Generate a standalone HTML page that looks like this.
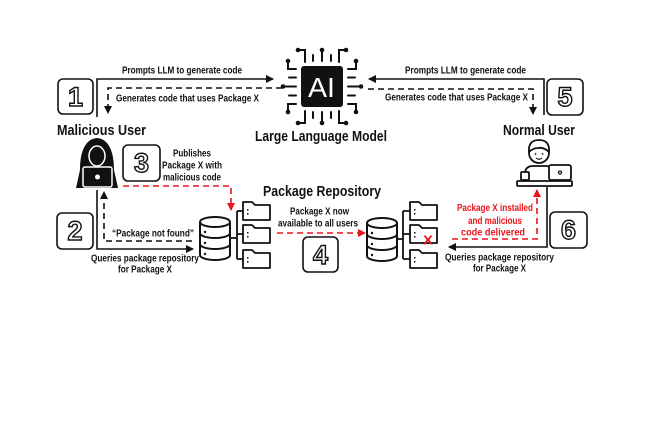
<!DOCTYPE html>
<html><head><meta charset="utf-8"><style>
html,body{margin:0;padding:0;background:#fff;}
svg{display:block;}
text{font-family:"Liberation Sans",sans-serif;font-weight:bold;fill:#111;}
.s{font-size:10px;}
.r{fill:#e8141c;}
.big{font-size:15px;}
.num{font-size:27px;fill:#fff;stroke:#111;stroke-width:1.4;text-anchor:middle;}
</style></head><body>
<svg width="650" height="433" viewBox="0 0 650 433" xmlns="http://www.w3.org/2000/svg">
<rect width="650" height="433" fill="#fff"/>
<defs>
<marker id="ab" markerWidth="8" markerHeight="8" refX="7" refY="4" orient="auto" markerUnits="userSpaceOnUse"><path d="M0,0 L8,4 L0,8 Z" fill="#111"/></marker>
<marker id="ar" markerWidth="8" markerHeight="8" refX="7" refY="4" orient="auto" markerUnits="userSpaceOnUse"><path d="M0,0 L8,4 L0,8 Z" fill="#e8141c"/></marker>
</defs>

<!-- Numbered boxes -->
<g fill="#fff" stroke="#111" stroke-width="1.6">
<rect x="58" y="79" width="35" height="35" rx="5"/>
<rect x="57" y="213" width="36" height="36" rx="5"/>
<rect x="123" y="145" width="37" height="36" rx="5"/>
<rect x="303" y="237" width="35" height="35" rx="5"/>
<rect x="547" y="79" width="36" height="36" rx="5"/>
<rect x="550" y="212" width="37" height="36" rx="5"/>
</g>
<text class="num" x="75.5" y="106">1</text>
<text class="num" x="75" y="240">2</text>
<text class="num" x="141.5" y="172">3</text>
<text class="num" x="320.5" y="264">4</text>
<text class="num" x="565" y="106">5</text>
<text class="num" x="568.5" y="239">6</text>

<!-- Connectors -->
<g fill="none" stroke="#111" stroke-width="1.6">
<path d="M97,117 V79 H273" marker-end="url(#ab)"/>
<path d="M282,88 H108 V113" stroke-dasharray="6,4" marker-end="url(#ab)"/>
<path d="M544,115 V79 H369" marker-end="url(#ab)"/>
<path d="M368,89 H533 V114" stroke-dasharray="6,4" marker-end="url(#ab)"/>
<path d="M97,190 V249 H193" marker-end="url(#ab)"/>
<path d="M192,241 H104 V192" stroke-dasharray="6,4" marker-end="url(#ab)"/>
<path d="M547,187 V247 H449" marker-end="url(#ab)"/>
</g>
<g fill="none" stroke="#e8141c" stroke-width="1.6" stroke-dasharray="6,4">
<path d="M123,186 H231 V210" marker-end="url(#ar)"/>
<path d="M277,233 H365" marker-end="url(#ar)"/>
<path d="M452,239 H537 V190" marker-end="url(#ar)"/>
</g>

<!-- AI chip -->
<g stroke="#111" stroke-width="2" fill="none" stroke-linecap="round">
<path d="M305,62 V50 H298"/><path d="M339,62 V50 H346"/>
<path d="M313,61 V55"/><path d="M322,61 V51"/><path d="M331,61 V55"/>
<path d="M305,111 V123 H298"/><path d="M339,111 V123 H346"/>
<path d="M313,112 V118"/><path d="M322,112 V122"/><path d="M331,112 V118"/>
<path d="M296,69 H288 V62"/><path d="M296,104 H288 V111"/>
<path d="M296,77.5 H289"/><path d="M296,86.5 H284"/><path d="M296,95.5 H289"/>
<path d="M348,69 H356 V62"/><path d="M348,104 H356 V111"/>
<path d="M348,77.5 H355"/><path d="M348,86.5 H360"/><path d="M348,95.5 H355"/>
</g>
<g fill="#111">
<circle cx="298" cy="50" r="2.3"/><circle cx="346" cy="50" r="2.3"/><circle cx="322" cy="50" r="2.3"/>
<circle cx="298" cy="123" r="2.3"/><circle cx="346" cy="123" r="2.3"/><circle cx="322" cy="123" r="2.3"/>
<circle cx="288" cy="61" r="2.3"/><circle cx="288" cy="112" r="2.3"/><circle cx="283" cy="86.5" r="2.3"/>
<circle cx="356" cy="61" r="2.3"/><circle cx="356" cy="112" r="2.3"/><circle cx="361" cy="86.5" r="2.3"/>
<rect x="301" y="66" width="42" height="41" rx="3"/>
</g>
<text x="308" y="97" style="font-size:28px;font-weight:normal;fill:#fff" textLength="27" lengthAdjust="spacingAndGlyphs">AI</text>

<!-- Hacker -->
<path d="M76,188 L80,170 C80,152 85,139 97,138 C109,139 114,152 114,170 L118,188 Z" fill="#111"/>
<ellipse cx="97" cy="156" rx="8" ry="10" fill="#111" stroke="#fff" stroke-width="1.5"/>
<rect x="83" y="167" width="29" height="20" rx="2" fill="#111" stroke="#fff" stroke-width="1.5"/>
<circle cx="97.5" cy="177" r="2.5" fill="#fff"/>

<!-- Normal user -->
<g fill="#fff" stroke="#111" stroke-width="1.8" stroke-linejoin="round">
<path d="M525,180 V174 Q525,166 533,166 H546 Q552,166 552,172 V180"/>
<circle cx="539" cy="153" r="10"/>
<path d="M529,152 Q528,140 539,140 Q550,140 549,152 Q544,147 538,148 Q533,148 529,152 Z"/>
<rect x="549" y="165" width="22" height="15" rx="2"/>
<rect x="521" y="172" width="8" height="8" rx="1"/>
<rect x="517" y="181" width="55" height="5" rx="1"/>
</g>
<circle cx="560" cy="172.5" r="1.5" fill="none" stroke="#111" stroke-width="1.3"/>
<circle cx="535.5" cy="154" r="0.9" fill="#111"/><circle cx="542.5" cy="154" r="0.9" fill="#111"/>
<path d="M536,158 Q539,160.5 542,158" fill="none" stroke="#111" stroke-width="1.1"/>

<!-- Databases -->
<g fill="#fff" stroke="#111" stroke-width="2">
<path d="M200,222 V255 A15,5 0 0 0 230,255 V222"/>
<path d="M200,233 A15,5 0 0 0 230,233"/>
<path d="M200,244 A15,5 0 0 0 230,244"/>
<ellipse cx="215" cy="222" rx="15" ry="5"/>
<path d="M367,223 V256 A15,5 0 0 0 397,256 V223"/>
<path d="M367,234 A15,5 0 0 0 397,234"/>
<path d="M367,245 A15,5 0 0 0 397,245"/>
<ellipse cx="382" cy="223" rx="15" ry="5"/>
</g>
<g fill="#111">
<circle cx="205" cy="232" r="1.2"/><circle cx="205" cy="243" r="1.2"/><circle cx="205" cy="254" r="1.2"/>
<circle cx="372" cy="233" r="1.2"/><circle cx="372" cy="244" r="1.2"/><circle cx="372" cy="255" r="1.2"/>
</g>
<g fill="none" stroke="#111" stroke-width="1.8">
<path d="M230,238 H237 M237,211 V259 M237,211 H243 M237,234 H243 M237,259 H243"/>
<path d="M397,239 H403 M403,211 V259 M403,211 H410 M403,234 H410 M403,259 H410"/>
</g>
<!-- Folders -->
<g fill="#fff" stroke="#111" stroke-width="1.8" stroke-linejoin="round">
<path d="M243,202 H252 L255,205 H270 V220 H243 Z"/>
<path d="M243,225 H252 L255,228 H270 V243 H243 Z"/>
<path d="M243,250 H252 L255,253 H270 V268 H243 Z"/>
<path d="M410,202 H419 L422,205 H437 V220 H410 Z"/>
<path d="M410,225 H419 L422,228 H437 V243 H410 Z"/>
<path d="M410,250 H419 L422,253 H437 V268 H410 Z"/>
</g>
<g fill="#111">
<rect x="247" y="209" width="1.5" height="1.5"/><rect x="247" y="213" width="1.5" height="1.5"/>
<rect x="247" y="232" width="1.5" height="1.5"/><rect x="247" y="236" width="1.5" height="1.5"/>
<rect x="247" y="257" width="1.5" height="1.5"/><rect x="247" y="261" width="1.5" height="1.5"/>
<rect x="414" y="209" width="1.5" height="1.5"/><rect x="414" y="213" width="1.5" height="1.5"/>
<rect x="414" y="232" width="1.5" height="1.5"/><rect x="414" y="236" width="1.5" height="1.5"/>
<rect x="414" y="257" width="1.5" height="1.5"/><rect x="414" y="261" width="1.5" height="1.5"/>
</g>
<text class="r" x="423" y="244.5" style="font-size:13px" textLength="10" lengthAdjust="spacingAndGlyphs">X</text>

<!-- Labels -->
<text class="s" x="122" y="73.5" textLength="120" lengthAdjust="spacingAndGlyphs">Prompts LLM to generate code</text>
<text class="s" x="116" y="101.5" textLength="143" lengthAdjust="spacingAndGlyphs">Generates code that uses Package X</text>
<text class="big" x="57" y="135" textLength="89" lengthAdjust="spacingAndGlyphs">Malicious User</text>
<text class="s" x="173" y="156.5" textLength="38" lengthAdjust="spacingAndGlyphs">Publishes</text>
<text class="s" x="162" y="168.5" textLength="60" lengthAdjust="spacingAndGlyphs">Package X with</text>
<text class="s" x="163" y="180.5" textLength="58" lengthAdjust="spacingAndGlyphs">malicious code</text>
<text class="big" x="255" y="141" textLength="132" lengthAdjust="spacingAndGlyphs">Large Language Model</text>
<text class="s" x="405" y="73.5" textLength="121" lengthAdjust="spacingAndGlyphs">Prompts LLM to generate code</text>
<text class="s" x="385" y="100.5" textLength="143" lengthAdjust="spacingAndGlyphs">Generates code that uses Package X</text>
<text class="big" x="503" y="135" textLength="72" lengthAdjust="spacingAndGlyphs">Normal User</text>
<text class="big" x="263" y="196" textLength="118" lengthAdjust="spacingAndGlyphs">Package Repository</text>
<text class="s" x="290" y="214.5" textLength="59" lengthAdjust="spacingAndGlyphs">Package X now</text>
<text class="s" x="278" y="226.5" textLength="80" lengthAdjust="spacingAndGlyphs">available to all users</text>
<text class="s" x="112" y="236.5" textLength="82" lengthAdjust="spacingAndGlyphs">“Package not found”</text>
<text class="s" x="91" y="261.5" textLength="108" lengthAdjust="spacingAndGlyphs">Queries package repository</text>
<text class="s" x="118" y="272.5" textLength="54" lengthAdjust="spacingAndGlyphs">for Package X</text>
<text class="s" x="445" y="260.5" textLength="109" lengthAdjust="spacingAndGlyphs">Queries package repository</text>
<text class="s" x="473" y="271.5" textLength="53" lengthAdjust="spacingAndGlyphs">for Package X</text>
<text class="s r" x="457" y="211" textLength="76" lengthAdjust="spacingAndGlyphs">Package X installed</text>
<text class="s r" x="468" y="224" textLength="54" lengthAdjust="spacingAndGlyphs">and malicious</text>
<text class="s r" x="461" y="235.5" textLength="64" lengthAdjust="spacingAndGlyphs">code delivered</text>
</svg>
</body></html>
